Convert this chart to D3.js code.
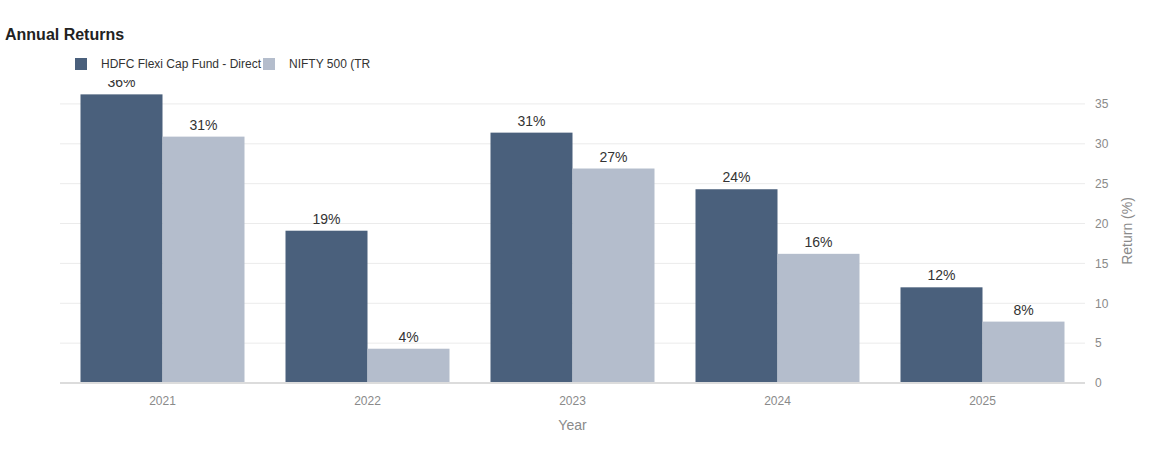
<!DOCTYPE html>
<html lang="en">
<head>
    <meta charset="UTF-8">
    <title>Annual Returns</title>
    <style>
        body { margin: 0; background: #fff; font-family: Arial, "Liberation Sans", sans-serif; }
        .grid line { stroke: #ebebeb; }
        .axis text { fill: #8a8a8a; font-size: 12px; }
    </style>
</head>
<body>
    <svg id="chart" width="1150" height="450"></svg>

    <script src="https://d3js.org/d3.v7.min.js"></script>
    <script>
        // chart data
        const years = ["2021", "2022", "2023", "2024", "2025"];
        const seriesNames = ["HDFC Flexi Cap Fund - Direct", "NIFTY 500 (TR"];
        const fundReturns = [36.2, 19.1, 31.4, 24.3, 12.0];
        const benchReturns = [30.9, 4.3, 26.9, 16.2, 7.7];
        const yTicks = [0, 5, 10, 15, 20, 25, 30, 35];
        const colors = ["#4a607c", "#b4bdcc"];

        const width = 1150;
        const height = 450;
        const margin = { left: 60, right: 65, top: 84, bottom: 67 };

        const svg = d3.select("#chart");

        const x = d3.scaleBand()
            .domain(years)
            .range([margin.left, width - margin.right])
            .paddingInner(0.2)
            .paddingOuter(0.1);

        const xSub = d3.scaleBand()
            .domain([0, 1])
            .range([0, x.bandwidth()]);

        const y = d3.scaleLinear()
            .domain([0, 37.5])
            .range([height - margin.bottom, margin.top]);

        // gridlines
        svg.append("g")
            .attr("class", "grid")
            .selectAll("line")
            .data(yTicks.filter(t => t > 0))
            .enter()
            .append("line")
            .attr("x1", margin.left)
            .attr("x2", width - margin.right)
            .attr("y1", d => y(d))
            .attr("y2", d => y(d));

        // clip for bars and labels (labels cut off at the top like the original)
        svg.append("clipPath")
            .attr("id", "plot-clip")
            .append("rect")
            .attr("x", margin.left)
            .attr("y", margin.top - 4)
            .attr("width", width - margin.left - margin.right)
            .attr("height", height - margin.top - margin.bottom + 4);

        const plot = svg.append("g").attr("clip-path", "url(#plot-clip)");

        const rows = years.map((yr, i) => ({ year: yr, values: [fundReturns[i], benchReturns[i]] }));

        const groups = plot.selectAll(".year")
            .data(rows)
            .enter()
            .append("g")
            .attr("transform", d => `translate(${x(d.year)},0)`);

        groups.selectAll("rect")
            .data(d => d.values.map((v, k) => ({ v, k })))
            .enter()
            .append("rect")
            .attr("x", d => xSub(d.k))
            .attr("width", xSub.bandwidth())
            .attr("y", d => y(d.v))
            .attr("height", d => y(0) - y(d.v))
            .attr("fill", d => colors[d.k]);

        groups.selectAll("text")
            .data(d => d.values.map((v, k) => ({ v, k })))
            .enter()
            .append("text")
            .attr("x", d => xSub(d.k) + xSub.bandwidth() / 2)
            .attr("y", d => y(d.v) - 7)
            .attr("text-anchor", "middle")
            .attr("font-size", 14)
            .attr("fill", "#333")
            .text(d => Math.round(d.v) + "%");

        // zero line
        svg.append("line")
            .attr("x1", margin.left)
            .attr("x2", width - margin.right)
            .attr("y1", y(0))
            .attr("y2", y(0))
            .attr("stroke", "#dcdcdc")
            .attr("stroke-width", 2);

        // right y axis
        const yAxis = svg.append("g")
            .attr("class", "axis")
            .attr("transform", `translate(${width - margin.right},0)`)
            .call(d3.axisRight(y).tickValues(yTicks).tickSize(0).tickPadding(10));
        yAxis.select(".domain").remove();

        svg.append("text")
            .attr("transform", `translate(${width - 18},${y(0) - 152}) rotate(-90)`)
            .attr("text-anchor", "middle")
            .attr("font-size", 14)
            .attr("fill", "#8a8a8a")
            .text("Return (%)");

        // x axis
        const xAxis = svg.append("g")
            .attr("class", "axis")
            .attr("transform", `translate(0,${y(0)})`)
            .call(d3.axisBottom(x).tickSize(0).tickPadding(13));
        xAxis.select(".domain").remove();

        svg.append("text")
            .attr("x", (margin.left + width - margin.right) / 2)
            .attr("y", 430)
            .attr("text-anchor", "middle")
            .attr("font-size", 14)
            .attr("fill", "#8a8a8a")
            .text("Year");

        // title
        svg.append("text")
            .attr("x", 5)
            .attr("y", 40)
            .attr("font-size", 16)
            .attr("font-weight", "bold")
            .attr("fill", "#222")
            .text("Annual Returns");

        // legend
        const legendX = [75, 263];
        seriesNames.forEach((name, i) => {
            svg.append("rect")
                .attr("x", legendX[i])
                .attr("y", 58)
                .attr("width", 12)
                .attr("height", 12)
                .attr("fill", colors[i]);
            svg.append("text")
                .attr("x", legendX[i] + 26)
                .attr("y", 68)
                .attr("font-size", 12)
                .attr("fill", "#333")
                .text(name);
        });
    </script>
</body>
</html>
